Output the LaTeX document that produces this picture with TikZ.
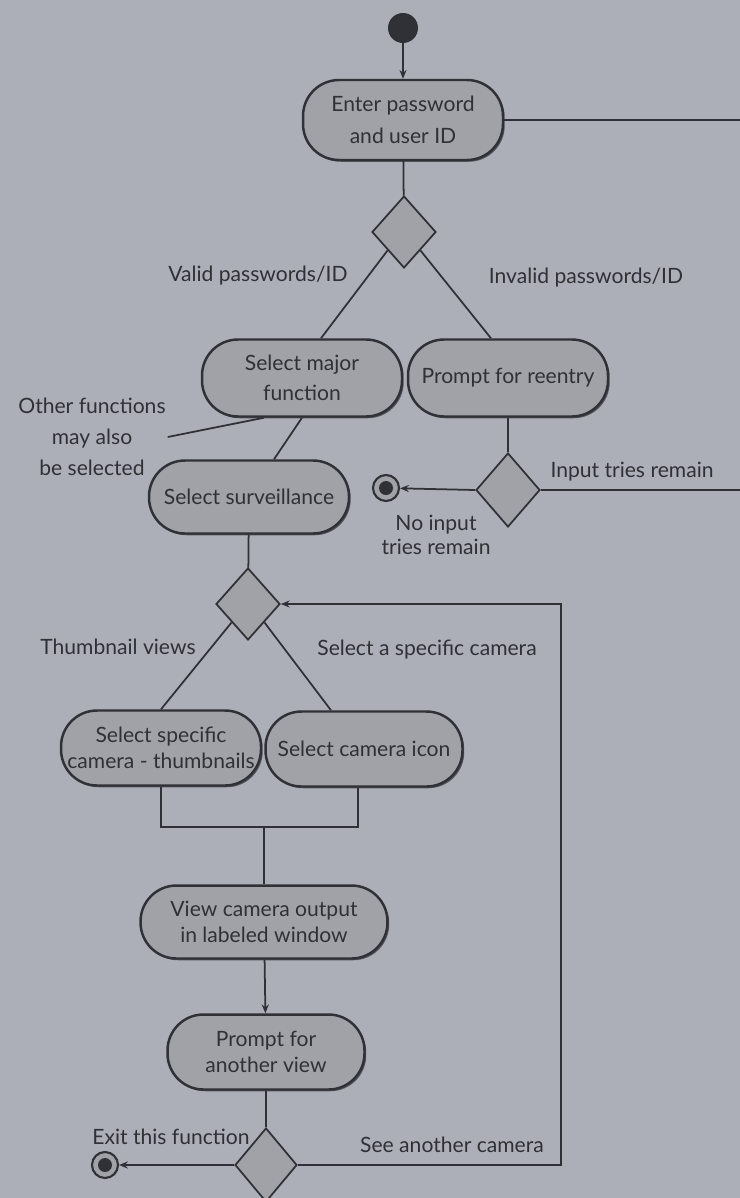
\documentclass[tikz,border=0pt]{standalone}
\usepackage{fontspec}
\setmainfont{Lato}
\usetikzlibrary{positioning,arrows.meta,shapes.geometric,shadows}
\definecolor{paper}{RGB}{172,175,183}
\definecolor{boxgrey}{RGB}{160,162,168}
\definecolor{ink}{RGB}{48,49,55}

\begin{document}
\begin{tikzpicture}[x=0.02cm,y=-0.02cm,>={Stealth[length=5pt,width=4pt]},
    every node/.style={text=ink,font=\fontsize{12}{15}\selectfont},
    act/.style={rectangle,rounded corners=0.72cm,draw=ink,line width=1.4pt,fill=boxgrey,
      align=center,minimum width=4cm,minimum height=1.5cm,inner sep=1pt,
      drop shadow={shadow xshift=0.035cm,shadow yshift=-0.035cm,fill=ink,opacity=0.7}},
    choice/.style={diamond,draw=ink,line width=1pt,fill=boxgrey,
      minimum width=1.28cm,minimum height=1.44cm,inner sep=0pt},
    flow/.style={draw=ink,line width=1pt},
    lbl/.style={align=center,inner sep=1pt}]
    \fill[paper] (0,0) rectangle (740,1198);
    \useasboundingbox (0,0) rectangle (740,1198);

    % login part
    \node[circle,fill=ink,minimum size=0.6cm,inner sep=0pt] (start) at (403,28) {};
    \node[act,minimum height=1.6cm] (enter) at (403,120) {Enter password\\[3pt]and user ID};
    \node[choice] (dec1) at (404,232) {};
    \node[act,minimum height=1.54cm] (major) at (302,378) {Select major\\[2pt]function};
    \node[act,minimum height=1.54cm] (reentry) at (508,378) {Prompt for reentry};
    \node[choice,minimum height=1.48cm] (dec2) at (508,490) {};
    \node[circle,draw=ink,line width=1.2pt,fill=boxgrey,minimum size=0.52cm,inner sep=0pt] (stop1) at (386,488) {};
    \fill[ink] (stop1) circle (0.14cm);
    \coordinate (rimA) at (740,120);
    \coordinate (rimB) at (740,490);

    \node[lbl] (lblvalid) at (258,276) {Valid passwords/ID};
    \node[lbl] (lblinvalid) at (586,278) {Invalid passwords/ID};
    \node[lbl,font=\fontsize{12}{17.5}\selectfont] (other) at (92,437) {Other functions\\may also\\be selected};
    \node[lbl] (lbltries) at (632,472) {Input tries remain};
    \node[lbl,font=\fontsize{12}{13.5}\selectfont] (lblnotries) at (436,535) {No input\\tries remain};

    % surveillance part
    \node[act,minimum height=1.46cm] (surv) at (249,497) {Select surveillance};
    \node[choice] (dec3) at (248,604) {};
    \node[act] (thumbs) at (161,748) {Select specific\\camera - thumbnails};
    \node[act,minimum width=3.94cm] (icon) at (364,749) {Select camera icon};
    \coordinate (join) at (264,827);
    \node[act,minimum width=4.94cm,minimum height=1.46cm] (view) at (264,922) {View camera output\\in labeled window};
    \node[act,minimum width=3.94cm] (another) at (266,1052) {Prompt for\\another view};
    \node[choice,minimum width=1.24cm,minimum height=1.48cm] (dec4) at (266,1165) {};
    \node[circle,draw=ink,line width=1.2pt,fill=boxgrey,minimum size=0.52cm,inner sep=0pt] (stop2) at (105,1165) {};
    \fill[ink] (stop2) circle (0.14cm);
    \coordinate (loop) at (561,900);

    \node[lbl] (lblthumb) at (118,647) {Thumbnail views};
    \node[lbl] (lblcamera) at (427,650) {Select a specific camera};
    \node[lbl] (lblexit) at (171,1137) {Exit this function};
    \node[lbl] (lblagain) at (452,1145) {See another camera};

    % flows
    \draw[flow,->] (start) -- (enter);
    \draw[flow] (enter) -- (dec1);
    \draw[flow] (enter.east) -- (rimA);
    \draw[flow] (dec1.south west) -- ([xshift=0.38cm]major.north);
    \draw[flow] (dec1.south east) -- ([xshift=-0.34cm]reentry.north);
    \draw[flow] (other.east) -- ([xshift=-0.76cm]major.south);
    \draw[flow] (major.south) -- ([xshift=0.5cm]surv.north);
    \draw[flow] (reentry) -- (dec2);
    \draw[flow,->] (dec2.west) -- (stop1);
    \draw[flow] (dec2.east) -- (rimB);
    \draw[flow] (surv) -- (dec3);
    \draw[flow] (dec3.south west) -- (thumbs.north);
    \draw[flow] (dec3.south east) -- ([xshift=-0.66cm]icon.north);
    \draw[flow] (thumbs.south) |- (join) -| ([xshift=-0.12cm]icon.south);
    \draw[flow] (join) -- (view);
    \draw[flow,->] (view) -- (another);
    \draw[flow] (another) -- (dec4);
    \draw[flow,->] (dec4.west) -- (stop2);
    \draw[flow,->] (dec4.east) -| (loop) |- (dec3.east);
  \end{tikzpicture}
\end{document}
